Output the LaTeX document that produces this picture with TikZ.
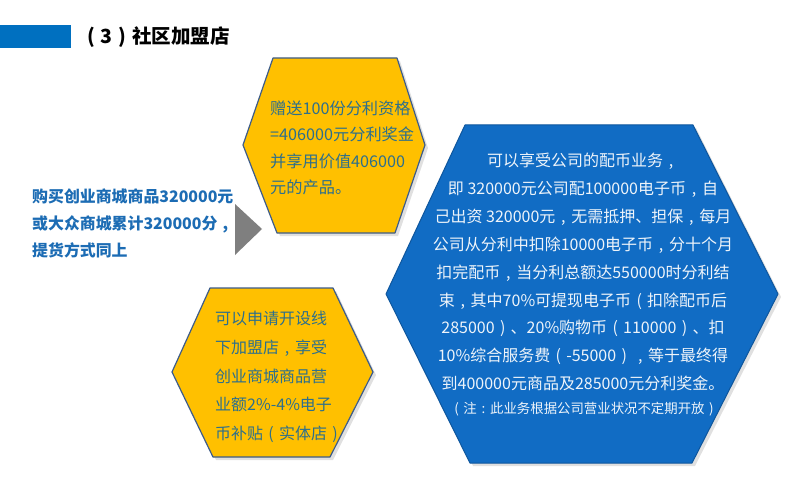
\documentclass[tikz,border=0pt]{standalone}
\usepackage{fontspec}
\setmainfont{Noto Sans CJK SC}
% full-width punctuation centred in its em cell
\newcommand\zcm{\makebox[1em][c]{,}}
\newcommand\zlp{\makebox[1em][c]{(}}
\newcommand\zrp{\makebox[1em][c]{)}}
\newcommand\zcol{\makebox[1em][c]{:}}
\begin{document}
\begin{tikzpicture}[x=1pt,y=-1pt,
  gold/.style={fill=hexgold,draw=hexedge,line width=1.2pt,line join=round},
  bluehex/.style={fill=hexblue,draw=hexblue!80!black,line width=1pt,line join=round},
  shade/.style={fill=black,opacity=0.12},
  goldtext/.style={text=goldink,align=left,inner sep=0pt,font=\fontsize{16.2}{26.5}\selectfont},
  bluetext/.style={text=paleink,align=center,inner sep=0pt,font=\fontsize{16}{27.9}\selectfont},
  lefttext/.style={text=leftink,align=left,inner sep=0pt,font=\bfseries\fontsize{15.9}{27}\selectfont}]
\definecolor{hexgold}{HTML}{FFC000}
\definecolor{hexedge}{HTML}{3D5C8A}
\definecolor{hexblue}{HTML}{116CC4}
\definecolor{goldink}{HTML}{2D6F8C}
\definecolor{paleink}{HTML}{EEF4FA}
\definecolor{leftink}{HTML}{1C6CB4}
\definecolor{barblue}{HTML}{0070C0}
\definecolor{arrowgray}{HTML}{7F7F7F}

\path[use as bounding box,fill=white] (0,0) rectangle (800,500);

% heading bar and title
\fill[barblue] (0,25) rectangle (71,48);
\node[anchor=west,inner sep=0pt,font=\bfseries\fontsize{19.5}{22}\selectfont] (title) at (81,37) {\zlp 3\zrp 社区加盟店};

% left description and pointer
\node[lefttext,anchor=west] (buy) at (32,223) {购买创业商城商品320000元\\或大众商城累计320000分\zcm\\提货方式同上};
\fill[arrowgray] (235,204) coordinate (tipa) -- (262,229) coordinate (tipb) -- (235,255) coordinate (tipc) -- cycle;

% soft shadows under the hexagons
\fill[shade] (276,61) -- (400,61) -- (428,148) -- (398,236) -- (280,236) -- (246,148) -- cycle;
\fill[shade] (213,291) -- (336,291) -- (376,375) -- (333,460) -- (216,460) -- (175,375) -- cycle;
\fill[shade] (468,128) -- (696,128) -- (781,297) -- (695,466) -- (473,466) -- (389,297) -- cycle;

% upper gold hexagon
\draw[gold] (273,58) -- (397,58) -- (425,145) -- (395,233) -- (277,233) -- (243,145) -- cycle;
\node[goldtext,anchor=west] (gift) at (270,148) {赠送100份分利资格\\=406000元分利奖金\\并享用价值406000\\元的产品。};

% lower gold hexagon
\draw[gold] (210,288) -- (333,288) -- (373,372) -- (330,457) -- (213,457) -- (172,372) -- cycle;
\node[goldtext,anchor=west,font=\fontsize{16}{28.7}\selectfont] (shop) at (215,377) {可以申请开设线\\下加盟店\zcm 享受\\创业商城商品营\\业额2\%-4\%电子\\币补贴\zlp 实体店\zrp};

% blue hexagon
\draw[bluehex] (465,125) -- (693,125) -- (778,294) -- (692,463) -- (470,463) -- (386,294) -- cycle;
\node[bluetext] (coin) at (583,272) {可以享受公司的配币业务\zcm\\即 320000元公司配100000电子币\zcm 自\\己出资 320000元\zcm 无需抵押、担保\zcm 每月\\公司从分利中扣除10000电子币\zcm 分十个月\\扣完配币\zcm 当分利总额达550000时分利结\\束\zcm 其中70\%可提现电子币\zlp 扣除配币后\\285000\zrp 、20\%购物币\zlp 110000\zrp 、扣\\10\%综合服务费\zlp -55000\zrp\zcm 等于最终得\\到400000元商品及285000元分利奖金。};
\node[text=paleink,inner sep=0pt,font=\fontsize{13.4}{15}\selectfont] (note) at (584,409) {\zlp 注\zcol 此业务根据公司营业状况不定期开放\zrp};
\end{tikzpicture}
\end{document}
